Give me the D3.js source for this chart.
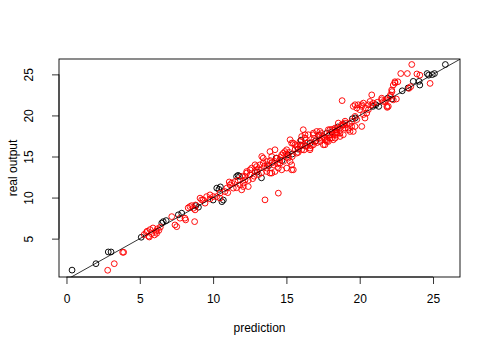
<!DOCTYPE html>
<html>
<head>
<meta charset="utf-8">
<script src="https://cdn.jsdelivr.net/npm/d3@7"></script>
<style>
  body { margin: 0; background: #fff; }
  text { font-family: "Liberation Sans", Arial, sans-serif; font-size: 12px; fill: #000; }
</style>
</head>
<body>
<script>
// [prediction, real output]
const blackPts = [
  [0.38,1.17],[2.01,1.95],[2.85,3.38],[3.04,3.38],[5.1,5.17],[6.5,6.9],[6.6,7.07],[6.8,7.2],
  [7.63,7.9],[7.86,8.1],[8.83,9.02],[9.0,8.83],[10.0,9.7],[10.25,11.15],[10.5,11.3],[10.4,11.0],
  [10.6,9.5],[10.7,9.7],[11.6,12.56],[11.7,12.7],[11.8,12.6],[13.3,12.4],[13.0,13.1],[13.8,13.9],
  [14.3,14.8],[14.7,14.5],[15.1,15.2],[15.4,15.3],[15.8,15.9],[16.0,17.0],[16.3,16.3],[16.6,16.6],
  [17.0,16.9],[17.2,17.6],[17.75,17.85],[18.1,18.0],[18.5,18.6],[18.9,18.9],[19.5,19.6],[19.7,19.7],
  [20.9,21.1],[21.1,21.3],[21.3,21.1],[21.9,22.1],[22.2,22.0],[22.9,23.0],[23.3,23.35],[23.65,24.15],
  [24.05,24.15],[24.1,23.7],[24.6,25.1],[24.7,24.9],[24.95,24.97],[25.1,25.1],[25.84,26.2]
];
const redPts = [
  [2.81,1.15],[3.26,1.95],[3.83,3.34],[3.9,3.34],
  [5.3,5.5],[5.45,5.75],[5.5,5.9],[5.65,5.2],[5.6,5.3],[5.7,6.1],[5.8,5.6],[5.9,6.3],[6.0,5.45],
  [6.1,5.9],[6.15,5.65],[6.2,6.2],[6.3,6.0],[6.4,6.4],
  [7.18,7.68],[7.4,6.67],[7.52,6.46],[7.74,7.49],[8.08,7.49],[8.13,7.28],[8.42,8.9],[8.54,9.02],
  [8.65,8.7],[8.77,8.5],[8.74,7.07],[8.3,8.75],[8.8,9.1],
  [9.11,9.93],[9.22,9.72],[9.33,9.72],[9.45,9.32],[9.56,10.12],[9.79,10.33],[9.79,9.84],[10.01,10.12],
  [10.25,10.12],[10.47,9.93],[10.47,10.54],[10.81,10.73],[10.93,11.15],[11.15,11.55],[11.27,11.76],
  [11.38,11.15],[11.49,11.95],[11.83,11.55],[11.95,10.94],[12.06,11.34],[12.06,11.76],[12.18,12.16],
  [12.18,12.56],[12.29,12.98],[12.29,13.17],[12.4,11.34],[12.52,12.77],[12.52,13.38],[12.63,13.59],
  [12.86,13.17],[12.86,13.99],[12.97,13.78],[12.97,13.38],[13.2,13.99],[13.32,15.0],[13.42,14.2],
  [13.42,14.8],[13.54,9.72],[13.66,13.59],[13.66,14.39],[13.66,13.17],[13.88,15.6],[13.88,12.98],
  [14.0,15.0],[14.0,14.2],[14.0,12.98],[14.11,13.99],[14.22,13.17],[14.22,15.82],[14.34,14.8],
  [14.45,13.59],[14.45,10.54],[14.56,14.6],[14.56,14.2],[14.68,15.2],[14.68,13.38],[14.79,15.41],
  [14.9,15.6],[15.02,15.82],[15.02,13.59],[15.13,15.0],[15.13,14.8],[15.25,14.39],[15.25,17.04],
  [15.36,13.99],[15.36,16.63],[15.36,13.38],[15.47,13.38],[15.47,16.63],[15.59,16.43],[15.7,16.22],
  [15.7,15.41],[15.93,16.43],[15.93,16.83],[16.04,15.82],[16.04,17.44],[16.15,18.26],[16.15,16.43],
  [16.27,17.65],[16.27,17.24],[16.38,16.63],[16.38,16.22],[16.49,17.65],[16.61,16.02],[16.61,15.82],
  [16.84,17.85],[16.84,16.43],[16.84,17.65],[16.95,16.83],[17.07,18.05],[17.29,17.65],[17.29,16.83],
  [17.29,18.05],[17.41,17.24],[17.52,17.44],[17.52,16.43],[17.63,17.04],[17.63,16.43],[17.75,16.83],
  [17.75,17.04],[17.86,18.26],[17.86,16.83],[17.97,17.24],[17.97,18.26],[17.97,17.65],[18.09,17.24],
  [18.2,17.04],[18.2,17.65],[18.32,18.26],[18.32,17.24],[18.32,18.46],[18.43,17.85],[18.43,18.26],
  [18.43,17.65],[18.54,19.07],[18.66,17.44],[18.66,17.85],[18.77,18.66],[18.77,18.87],[18.8,21.8],
  [18.88,18.87],[18.88,17.65],[18.99,19.07],[19.0,18.46],[19.22,18.26],[19.22,18.46],[19.34,18.05],
  [19.45,18.66],[19.45,19.27],[19.56,18.05],[19.56,21.1],[19.68,18.66],[19.68,19.88],[19.68,21.3],
  [19.8,20.9],[19.9,21.3],[20.0,20.7],[20.14,21.1],[20.14,18.66],[20.14,21.3],[20.25,21.5],
  [20.25,20.1],[20.36,19.68],[20.48,20.29],[20.59,20.7],[20.59,21.3],[20.7,21.7],[20.82,22.5],
  [20.82,21.3],[20.93,21.5],[21.5,22.1],[21.5,21.9],[21.61,21.7],[21.73,21.7],[21.84,21.9],
  [21.85,21.1],[21.88,20.98],[21.95,21.1],[22.07,22.3],[22.1,22.5],[22.18,23.1],[22.2,22.9],
  [22.29,23.7],[22.29,21.9],[22.41,23.95],[22.4,24.1],[22.5,22.0],[22.6,24.1],[22.8,25.1],
  [23.25,25.1],[23.36,23.3],[23.48,23.5],[23.55,26.2],[23.9,25.05],[24.1,24.9],[24.8,23.9],
  [11.0,10.6],[11.1,11.9],[11.6,11.2],[11.7,12.1],[12.0,12.6],[12.4,12.1],[12.7,12.3],[12.8,12.6],
  [13.1,12.8],[13.1,13.5],[13.3,13.0],[13.5,13.8],[13.7,14.0],[13.9,14.5],[14.2,14.4],[14.4,14.1],
  [14.6,14.9],[14.8,14.4],[15.0,15.3],[15.2,15.5],[15.4,15.0],[15.6,15.9],[15.8,15.5],[16.0,16.3],
  [16.2,15.8],[16.5,16.8],[16.7,16.3],[16.9,17.2],[17.1,16.7],[17.4,17.8],[17.6,17.3],[17.9,17.6],
  [18.1,18.3],[18.4,18.0],[18.6,18.3],[19.0,19.3],[19.3,19.0],[19.8,19.5],[20.4,20.9],[21.2,21.6]
];
const xTicks = [0, 5, 10, 15, 20, 25];
const yTicks = [5, 10, 15, 20, 25];

const W = 490, H = 350;
const box = { left: 59, right: 460, top: 59, bottom: 277 };

const svg = d3.select("body").append("svg").attr("width", W).attr("height", H);
svg.append("rect").attr("width", W).attr("height", H).attr("fill", "#fff");

const x = d3.scaleLinear().domain([-0.51, 26.84]).range([box.left, box.right]);
const y = d3.scaleLinear().domain([0.33, 26.87]).range([box.bottom, box.top]);

// axes
const xAxis = svg.append("g").attr("transform", `translate(0,${box.bottom})`)
  .call(d3.axisBottom(x).tickValues(xTicks).tickSize(7).tickPadding(10).tickFormat(d3.format("d")));
xAxis.select(".domain").attr("d", `M${x(0)},0H${x(25)}`);

const yAxis = svg.append("g").attr("transform", `translate(${box.left},0)`)
  .call(d3.axisLeft(y).tickValues(yTicks).tickSize(7).tickFormat(d3.format("d")));
yAxis.select(".domain").attr("d", `M0,${y(5)}V${y(25)}`);
yAxis.selectAll(".tick text")
  .attr("x", null).attr("dy", null)
  .attr("transform", "translate(-26,0) rotate(-90)")
  .attr("text-anchor", "middle");

svg.selectAll(".tick text").style("font-size", "12px").attr("fill", "#000");
svg.selectAll(".tick line, .domain").attr("stroke", "#000").attr("stroke-width", 0.8);

// box
svg.append("rect")
  .attr("x", box.left).attr("y", box.top)
  .attr("width", box.right - box.left).attr("height", box.bottom - box.top)
  .attr("fill", "none").attr("stroke", "#000").attr("stroke-width", 0.9);

// labels
svg.append("text").attr("x", (box.left + box.right) / 2).attr("y", 332)
  .attr("text-anchor", "middle").text("prediction");
svg.append("text").attr("transform", `translate(17,${(box.top + box.bottom) / 2}) rotate(-90)`)
  .attr("text-anchor", "middle").text("real output");

// points
svg.append("defs").append("clipPath").attr("id", "clip")
  .append("rect").attr("x", box.left).attr("y", box.top)
  .attr("width", box.right - box.left).attr("height", box.bottom - box.top);

const plot = svg.append("g");
plot.selectAll("circle.b").data(blackPts).enter().append("circle")
  .attr("class", "b")
  .attr("cx", d => x(d[0])).attr("cy", d => y(d[1])).attr("r", 2.9)
  .attr("fill", "none").attr("stroke", "#000").attr("stroke-width", 0.95);
plot.selectAll("circle.r").data(redPts).enter().append("circle")
  .attr("class", "r")
  .attr("cx", d => x(d[0])).attr("cy", d => y(d[1])).attr("r", 2.9)
  .attr("fill", "none").attr("stroke", "#ff0000").attr("stroke-width", 0.95);

// y = x reference line
svg.append("line").attr("clip-path", "url(#clip)")
  .attr("x1", x(-1)).attr("y1", y(-1)).attr("x2", x(28)).attr("y2", y(28))
  .attr("stroke", "#000").attr("stroke-width", 0.8);
</script>
</body>
</html>
